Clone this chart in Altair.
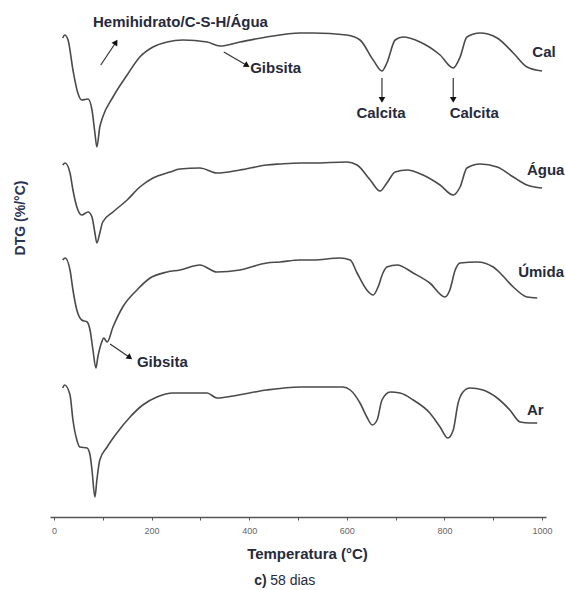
import altair as alt
import pandas as pd

# ---- data (temperature in °C, DTG in relative units) ----
series_names = ["Cal", "Água", "Úmida", "Ar"]
series_offset = [48.4, 35.4, 25.9, 13.0]

cal_T = [18, 22, 29, 39, 49, 57, 70, 78, 84, 88, 94, 100, 121, 150, 176, 203, 232, 264, 314, 340,
         381, 436, 504, 531, 600, 627, 654, 672, 682, 699, 715, 750, 791, 818, 832, 846, 873, 908, 941, 969,
         1000]
cal_D = [-0.5, -0.2, -0.7, -3.7, -6.0, -6.7, -6.6, -7.7, -10.0, -11.4, -9.4, -8.4, -6.4, -4.2, -2.4, -1.4, -0.9, -0.7, -0.9, -1.3,
         -0.9, -0.4, 0, 0, -0.2, -0.7, -2.7, -3.8, -3.0, -0.7, -0.4, -0.9, -2.2, -3.5, -2.4, -0.4, 0, -0.5, -2.0, -3.4,
         -3.8]

agua_T = [18, 23, 33, 39, 47, 57, 70, 78, 84, 88, 94, 100, 121, 150, 176, 203, 238, 258, 299, 334,
          381, 436, 463, 504, 531, 600, 621, 648, 668, 682, 699, 723, 756, 791, 818, 832, 846, 873, 908, 941,
          969, 1000]
agua_D = [-0.2, 0, -1.0, -2.7, -4.4, -5.2, -4.9, -5.4, -7.0, -8.0, -7.0, -5.9, -4.9, -3.7, -2.4, -1.5, -0.9, -0.6, -0.5, -1.0,
          -0.7, -0.2, -0.1, 0, 0, 0.1, -0.2, -1.7, -2.8, -2.0, -0.9, -0.7, -1.2, -2.2, -3.2, -2.4, -0.5, -0.1, -0.4, -1.4,
          -2.2, -2.5]

umida_T = [18, 23, 33, 39, 47, 57, 68, 74, 80, 86, 90, 98, 102, 109, 121, 141, 170, 197, 232, 258,
           299, 334, 381, 436, 463, 504, 531, 586, 607, 621, 641, 654, 664, 674, 682, 703, 736, 770, 801, 811,
           822, 832, 867, 900, 914, 941, 969, 990]
umida_D = [-0.2, 0, -1.2, -3.2, -5.2, -6.2, -6.4, -7.2, -9.2, -11.0, -9.9, -8.4, -8.0, -8.4, -6.9, -4.9, -3.2, -2.0, -1.4, -1.2,
           -0.7, -1.4, -1.2, -0.5, -0.4, -0.2, -0.2, 0, -0.2, -1.5, -3.2, -3.7, -2.9, -1.5, -0.9, -0.7, -1.5, -2.5, -3.9, -3.2,
           -1.2, -0.5, -0.4, -0.9, -1.5, -2.9, -3.9, -4.0]

ar_T = [18, 22, 33, 39, 47, 53, 68, 74, 78, 84, 88, 94, 109, 129, 156, 182, 211, 244, 273, 314,
        334, 367, 436, 504, 592, 607, 627, 641, 652, 662, 672, 689, 709, 736, 770, 791, 807, 818, 828, 838,
        852, 879, 908, 934, 955, 975, 990]
ar_D = [-0.1, 0.2, -0.8, -3.3, -5.3, -6.0, -6.1, -6.8, -8.3, -11.0, -9.3, -7.3, -6.0, -4.6, -3.0, -1.8, -1.0, -0.6, -0.6, -0.6,
        -1.1, -0.9, -0.3, 0, 0, -0.3, -1.6, -3.0, -3.8, -3.3, -1.3, -0.5, -0.6, -1.3, -2.6, -4.0, -5.1, -4.3, -1.6, -0.5,
        -0.1, -0.3, -1.1, -2.3, -3.5, -3.6, -3.6]

# labels / annotations
label_text = ["Hemihidrato/C-S-H/Água", "Gibsita", "Cal", "Água", "Úmida", "Gibsita", "Ar"]
label_T = [80, 402, 980, 969, 951, 170, 969]
label_y = [49.5, 44.9, 46.5, 34.7, 24.5, 15.5, 10.7]

calcita_text = ["Calcita", "Calcita"]
calcita_T = [670, 861]
calcita_y = [40.4, 40.4]

arrow_T = [96, 348, 672, 818, 115]
arrow_y = [45.2, 46.5, 43.9, 43.9, 17.3]
arrow_T2 = [126, 394, 672, 818, 154]
arrow_y2 = [47.4, 45.2, 41.8, 41.8, 16.0]
arrow_angle = [33, 122, 180, 180, 127]

tick_values = list(range(0, 1001, 50))

# ---- build tables ----
rows = []
for name, off, T, D in zip(series_names, series_offset,
                           [cal_T, agua_T, umida_T, ar_T], [cal_D, agua_D, umida_D, ar_D]):
    for t, d in zip(T, D):
        rows.append({"serie": name, "T": t, "y": d + off})
curves = pd.DataFrame(rows)

labels = pd.DataFrame({"text": label_text, "T": label_T, "y": label_y})
calc = pd.DataFrame({"text": calcita_text, "T": calcita_T, "y": calcita_y})
arrows = pd.DataFrame({"T": arrow_T, "y": arrow_y, "T2": arrow_T2, "y2": arrow_y2, "angle": arrow_angle})

xscale = alt.Scale(domain=[-8, 1008], nice=False, zero=False)
yscale = alt.Scale(domain=[0, 50], nice=False, zero=False)

TEXT_COLOR = "#262a3a"

lines = alt.Chart(curves).mark_line(color="#4a4a4a", strokeWidth=1.6, interpolate="monotone").encode(
    x=alt.X("T:Q", scale=xscale,
            axis=alt.Axis(values=tick_values, title="Temperatura (°C)", format="d",
                          labelExpr="datum.value % 200 == 0 ? datum.label : ''",
                          grid=False, tickSize=3, tickColor="#555", domainColor="#555",
                          domainWidth=1.5, labelFontSize=9, labelColor="#666",
                          labelFont="Liberation Sans", labelPadding=6,
                          titleFont="Liberation Sans", titleFontSize=15, titleFontWeight="bold",
                          titleColor=TEXT_COLOR, titleX=257, titleY=36, titleBaseline="middle")),
    y=alt.Y("y:Q", scale=yscale, axis=None),
    detail="serie:N",
)

lab = alt.Chart(labels).mark_text(align="left", baseline="middle", font="Liberation Sans",
                                  fontSize=15, fontWeight="bold", color=TEXT_COLOR).encode(
    x=alt.X("T:Q", scale=xscale), y=alt.Y("y:Q", scale=yscale), text="text:N")

calc_lab = alt.Chart(calc).mark_text(align="center", baseline="middle", font="Liberation Sans",
                                     fontSize=15, fontWeight="bold", color=TEXT_COLOR).encode(
    x=alt.X("T:Q", scale=xscale), y=alt.Y("y:Q", scale=yscale), text="text:N")

arrow_lines = alt.Chart(arrows).mark_rule(color="#333", strokeWidth=1.2).encode(
    x=alt.X("T:Q", scale=xscale), y=alt.Y("y:Q", scale=yscale), x2="T2:Q", y2="y2:Q")

arrow_heads = alt.Chart(arrows).mark_point(shape="triangle", filled=True, color="#111", size=45, opacity=1).encode(
    x=alt.X("T2:Q", scale=xscale), y=alt.Y("y2:Q", scale=yscale), angle=alt.Angle("angle:Q", scale=None))

ytitle = alt.Chart(pd.DataFrame({"T": [-68], "y": [29.9], "text": ["DTG (%/°C)"]})).mark_text(
    angle=270, align="center", baseline="middle", font="Liberation Sans", fontSize=14,
    fontWeight="bold", color="#2a3350").encode(
    x=alt.X("T:Q", scale=xscale), y=alt.Y("y:Q", scale=yscale), text="text:N")

cap1 = alt.Chart(pd.DataFrame({"T": [436], "y": [-6.4], "text": ["c)"]})).mark_text(
    align="right", baseline="middle", font="Liberation Sans", fontSize=14, fontWeight="bold",
    color=TEXT_COLOR).encode(x=alt.X("T:Q", scale=xscale), y=alt.Y("y:Q", scale=yscale), text="text:N")
cap2 = alt.Chart(pd.DataFrame({"T": [443], "y": [-6.4], "text": ["58 dias"]})).mark_text(
    align="left", baseline="middle", font="Liberation Sans", fontSize=14, fontWeight="normal",
    color=TEXT_COLOR).encode(x=alt.X("T:Q", scale=xscale), y=alt.Y("y:Q", scale=yscale), text="text:N")

chart = alt.layer(lines, arrow_lines, arrow_heads, lab, calc_lab, ytitle, cap1, cap2).properties(
    width=496, height=500,
    padding={"left": 50, "top": 17, "right": 20, "bottom": 73},
    autosize=alt.AutoSizeParams(type="none"),
).configure_view(stroke=None)

chart.save("out.html", embed_options={"renderer": "svg", "actions": False})
